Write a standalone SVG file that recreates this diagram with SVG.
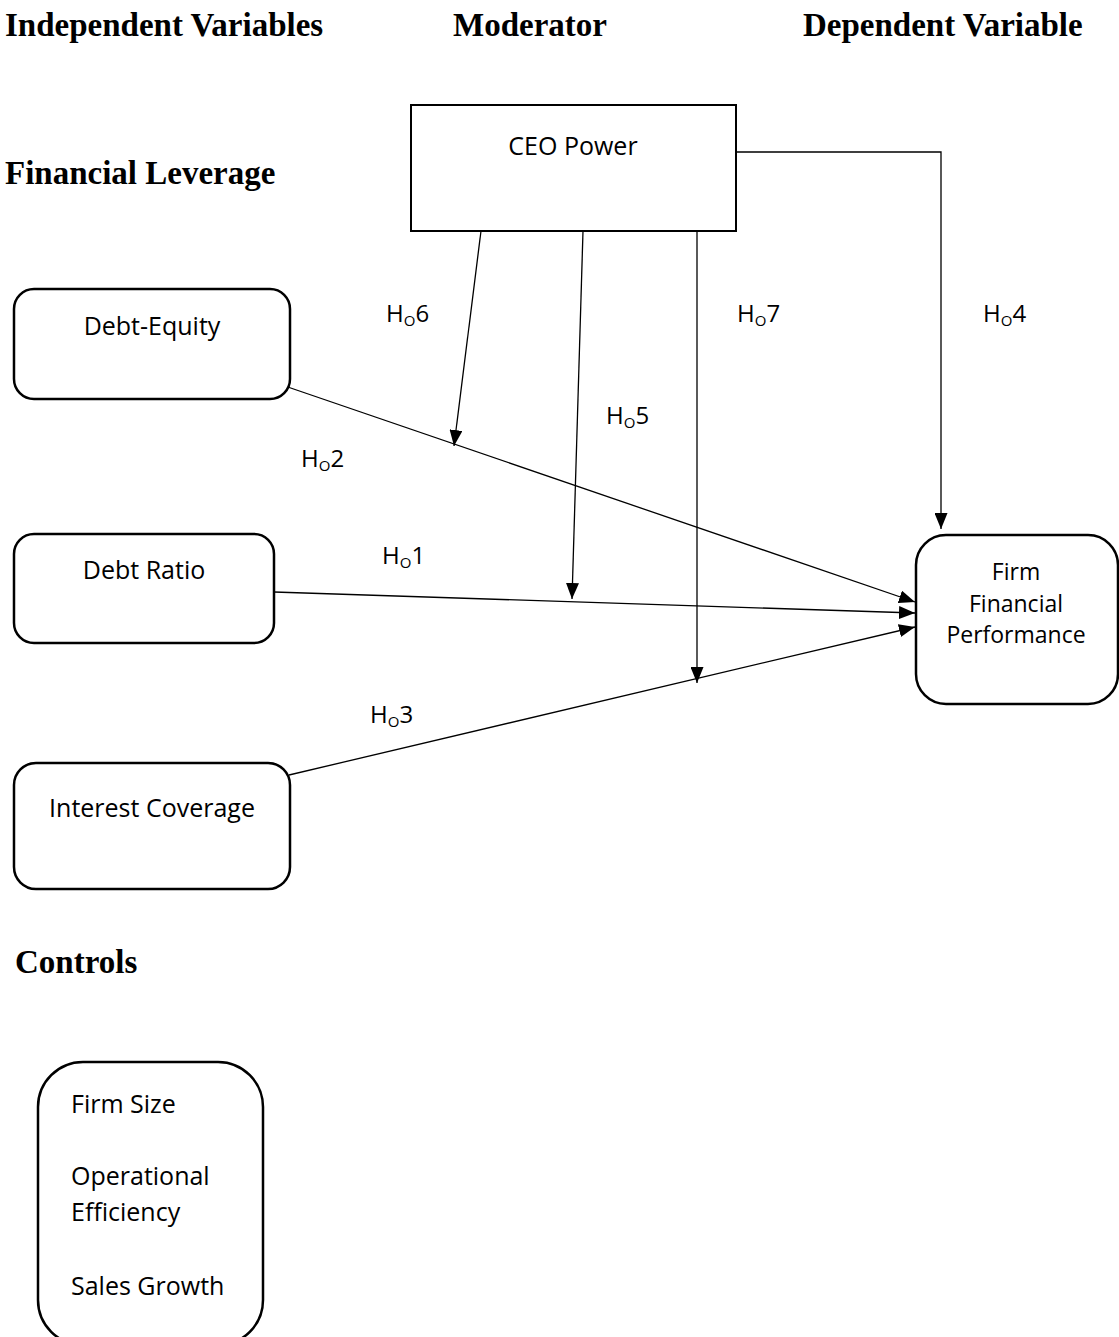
<svg xmlns="http://www.w3.org/2000/svg" width="1119" height="1337" viewBox="0 0 1119 1337">
<style>
.hd{font-family:"Liberation Serif","Times New Roman",serif;font-weight:bold;font-size:33px;fill:#000}
.tx{font-family:"Open Sans","Liberation Sans",sans-serif;font-size:25px;fill:#000}
.lb{font-family:"Open Sans","Liberation Sans",sans-serif;font-size:24px;fill:#000}
.sub{font-size:15px}
.box{fill:#fff;stroke:#000;stroke-width:2.5}
.ln{fill:none;stroke:#000;stroke-width:1.3}
</style>
<defs>
<marker id="ah" markerUnits="userSpaceOnUse" markerWidth="16" markerHeight="13" refX="16" refY="6.5" orient="auto">
<path d="M0,0 L16,6.5 L0,13 z" fill="#000"/>
</marker>
</defs>
<rect width="1119" height="1337" fill="#fff"/>
<g id="headers">
<text class="hd" x="5" y="36">Independent Variables</text>
<text class="hd" x="453" y="36">Moderator</text>
<text class="hd" x="803" y="36">Dependent Variable</text>
<text class="hd" x="5" y="184">Financial Leverage</text>
<text class="hd" x="15" y="973">Controls</text>
</g>
<g id="connectors">
<path class="ln" d="M279,384 L915,602" marker-end="url(#ah)"/>
<path class="ln" d="M274,592 L915,613" marker-end="url(#ah)"/>
<path class="ln" d="M289,775 L915,627" marker-end="url(#ah)"/>
<path class="ln" d="M481,231 L454,446" marker-end="url(#ah)"/>
<path class="ln" d="M583,231 L572,599" marker-end="url(#ah)"/>
<path class="ln" d="M697,231 L697,683" marker-end="url(#ah)"/>
<path class="ln" d="M736,152 H941 V529" marker-end="url(#ah)"/>
</g>
<g id="labels" class="lb">
<text x="386" y="322">H<tspan class="sub" dy="4">O</tspan><tspan dy="-4">6</tspan></text>
<text x="737" y="322">H<tspan class="sub" dy="4">O</tspan><tspan dy="-4">7</tspan></text>
<text x="983" y="322">H<tspan class="sub" dy="4">O</tspan><tspan dy="-4">4</tspan></text>
<text x="606" y="424">H<tspan class="sub" dy="4">O</tspan><tspan dy="-4">5</tspan></text>
<text x="301" y="467">H<tspan class="sub" dy="4">O</tspan><tspan dy="-4">2</tspan></text>
<text x="382" y="564">H<tspan class="sub" dy="4">O</tspan><tspan dy="-4">1</tspan></text>
<text x="370" y="723">H<tspan class="sub" dy="4">O</tspan><tspan dy="-4">3</tspan></text>
</g>
<g id="ceo-power">
<rect x="411" y="105" width="325" height="126" fill="#fff" stroke="#000" stroke-width="2"/>
<text class="tx" x="573" y="155" text-anchor="middle">CEO Power</text>
</g>
<g id="debt-equity">
<rect class="box" x="14" y="289" width="276" height="110" rx="20"/>
<text class="tx" x="152" y="335" text-anchor="middle">Debt-Equity</text>
</g>
<g id="debt-ratio">
<rect class="box" x="14" y="534" width="260" height="109" rx="20"/>
<text class="tx" x="144" y="579" text-anchor="middle">Debt Ratio</text>
</g>
<g id="interest-coverage">
<rect class="box" x="14" y="763" width="276" height="126" rx="22"/>
<text class="tx" x="152" y="817" text-anchor="middle">Interest Coverage</text>
</g>
<g id="firm-performance">
<rect class="box" x="916" y="535" width="202" height="169" rx="30"/>
<text class="tx" x="1016" y="580" text-anchor="middle" style="font-size:23px">Firm</text>
<text class="tx" x="1016" y="612" text-anchor="middle" style="font-size:23px">Financial</text>
<text class="tx" x="1016" y="643" text-anchor="middle" style="font-size:23px">Performance</text>
</g>
<g id="controls">
<rect class="box" x="38" y="1062" width="225" height="283" rx="45"/>
<text class="tx" x="71" y="1113">Firm Size</text>
<text class="tx" x="71" y="1185">Operational</text>
<text class="tx" x="71" y="1221">Efficiency</text>
<text class="tx" x="71" y="1295">Sales Growth</text>
</g>
</svg>
